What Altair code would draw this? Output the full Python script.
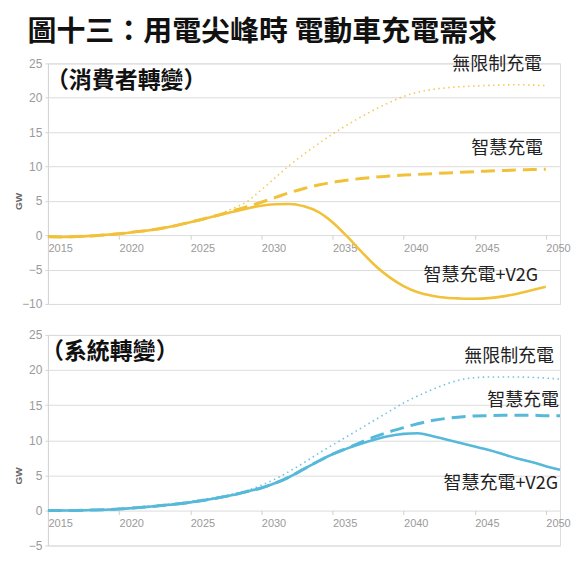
import altair as alt
import pandas as pd

# ---------------- data ----------------
title_text = "圖十三：用電尖峰時 電動車充電需求"
panel_titles = ["（消費者轉變）", "（系統轉變）"]
series_labels = ["無限制充電", "智慧充電", "智慧充電+V2G"]

years_top = list(range(2015, 2051))
top_unlimited = [-0.2, -0.25, -0.2, -0.1, 0.05, 0.2, 0.45, 0.7, 1.0, 1.4, 1.9,
                 2.45, 3.05, 3.9, 4.9, 6.6, 8.4, 10.2, 11.8, 13.3, 14.7,
                 16.0, 17.2, 18.3, 19.3, 20.2, 20.8, 21.2, 21.45, 21.6, 21.7,
                 21.8, 21.85, 21.9, 21.85, 21.75]
top_smart = [-0.2, -0.25, -0.2, -0.1, 0.05, 0.2, 0.45, 0.7, 1.0, 1.4, 1.9,
             2.4, 2.95, 3.55, 4.15, 4.8, 5.5, 6.2, 6.8, 7.3, 7.7,
             8.0, 8.25, 8.45, 8.6, 8.75, 8.85, 8.95, 9.05, 9.15, 9.25,
             9.35, 9.4, 9.5, 9.55, 9.6]
top_v2g = [-0.2, -0.25, -0.2, -0.1, 0.05, 0.2, 0.45, 0.7, 1.0, 1.4, 1.9,
           2.4, 2.9, 3.4, 3.9, 4.3, 4.5, 4.55, 4.2, 3.4, 1.9,
           -0.1, -2.3, -4.4, -6.1, -7.4, -8.3, -8.8, -9.1, -9.2, -9.25,
           -9.15, -8.9, -8.5, -8.0, -7.5]

years_bottom = list(range(2015, 2052))
bottom_unlimited = [0.0, 0.0, 0.05, 0.1, 0.15, 0.25, 0.4, 0.6, 0.8, 1.0, 1.3,
                    1.6, 1.95, 2.35, 2.85, 3.6, 4.5, 5.6, 6.8, 8.1, 9.3,
                    10.5, 11.7, 12.9, 14.1, 15.3, 16.3, 17.2, 18.0, 18.6, 18.9,
                    19.0, 19.0, 19.0, 18.95, 18.85, 18.7]
bottom_smart = [0.0, 0.0, 0.0, 0.05, 0.1, 0.2, 0.35, 0.5, 0.7, 0.9, 1.15,
                1.45, 1.8, 2.2, 2.7, 3.2, 3.9, 4.8, 5.9, 7.0, 8.0,
                8.85, 9.7, 10.5, 11.2, 11.8, 12.35, 12.8, 13.1, 13.3, 13.45,
                13.5, 13.55, 13.55, 13.55, 13.5, 13.5]
bottom_v2g = [0.0, 0.0, 0.0, 0.05, 0.1, 0.2, 0.35, 0.5, 0.7, 0.9, 1.15,
              1.45, 1.8, 2.2, 2.7, 3.2, 3.9, 4.8, 5.9, 7.0, 8.0,
              8.8, 9.5, 10.1, 10.6, 10.9, 11.0, 10.6, 10.1, 9.6, 9.1,
              8.6, 8.0, 7.4, 6.9, 6.3, 5.8]

x_ticks = [2015, 2020, 2025, 2030, 2035, 2040, 2045, 2050]
top_y_ticks = [-10, -5, 0, 5, 10, 15, 20, 25]
bottom_y_ticks = [-5, 0, 5, 10, 15, 20, 25]

# ---------------- style ----------------
GOLD = "#f2c13a"
BLUE = "#56b9d9"
CJK = "Noto Sans CJK TC"
W = 513
TOP_H, BOT_H = 241, 211
TOP_DOM, BOT_DOM = [-10, 25], [-5, 25]


def frame(years, vals):
    return pd.DataFrame({"year": years, "value": vals})


def panel(years, unl, smart, v2g, color, ydom, yticks, h, label_pos, ptitle, ptitle_pos):
    zero_off = h * (0 - ydom[0]) / (ydom[1] - ydom[0])
    gw_y = h * (ydom[1] - 5) / (ydom[1] - ydom[0])
    xenc = alt.X("year:Q", scale=alt.Scale(domain=[2015, 2051], nice=False, zero=False),
                 axis=alt.Axis(values=x_ticks, format="d", labelAlign="left", offset=-zero_off,
                               domain=False, grid=False, tickSize=4, tickColor="#cfcfcf",
                               labelColor="#9a9a9a", labelFontSize=11, labelPadding=3,
                               labelOverlap=False, labelFont="Liberation Sans", title=None))
    yenc = alt.Y("value:Q", scale=alt.Scale(domain=ydom, nice=False, zero=False),
                 axis=alt.Axis(values=yticks, grid=True, gridColor="#dcdcdc", domainColor="#d4d4d4",
                               tickColor="#d4d4d4", tickSize=3, labelColor="#9a9a9a",
                               labelFontSize=12, labelFont="Liberation Sans", labelPadding=3,
                               labelOverlap=False, labelFlush=False, labelBound=False,
                               title="GW", titleFontSize=10, titleFontWeight="bold",
                               titleColor="#666666", titleFont="Liberation Sans",
                               titleX=-24, titleY=gw_y))
    base_unl = alt.Chart(frame(years, unl)).mark_line(
        color=color, strokeWidth=1.6, strokeDash=[1.5, 3.5], interpolate="monotone", opacity=0.85
    )
    base_smart = alt.Chart(frame(years, smart)).mark_line(
        color=color, strokeWidth=3, strokeDash=[14, 7], interpolate="monotone"
    )
    base_v2g = alt.Chart(frame(years, v2g)).mark_line(
        color=color, strokeWidth=2.6, interpolate="monotone"
    )
    lines = alt.layer(base_unl, base_smart, base_v2g).encode(x=xenc, y=yenc)
    layers = [lines]
    for lab, (px, py) in zip(series_labels, label_pos):
        layers.append(
            alt.Chart(pd.DataFrame({"t": [lab]})).mark_text(
                align="right", baseline="middle", font=CJK, fontSize=18, color="#222222"
            ).encode(x=alt.value(px), y=alt.value(py), text="t:N")
        )
    layers.append(
        alt.Chart(pd.DataFrame({"t": [ptitle]})).mark_text(
            align="left", baseline="middle", font=CJK, fontSize=23, fontWeight="bold", color="#111111"
        ).encode(x=alt.value(ptitle_pos[0]), y=alt.value(ptitle_pos[1]), text="t:N")
    )
    return alt.layer(*layers).properties(width=W, height=h)


top = panel(years_top, top_unlimited, top_smart, top_v2g, GOLD, TOP_DOM, top_y_ticks, TOP_H,
            [(495, 2), (496, 86), (491, 213)], panel_titles[0], (-2, 18))
bottom = panel(years_bottom, bottom_unlimited, bottom_smart, bottom_v2g, BLUE, BOT_DOM, bottom_y_ticks,
               BOT_H, [(507, 22), (512, 66), (511, 149)], panel_titles[1], (-7, 17))

chart = alt.vconcat(top, bottom, spacing=31, bounds="flush").properties(
    title=alt.TitleParams(title_text, font=CJK, fontSize=29, fontWeight="bold", color="#111111",
                          anchor="start", offset=9, dx=14),
    padding={"left": 5, "top": 9, "right": 0, "bottom": 0},
).configure_view(stroke=None).configure_axis(labelOverlap=False).configure(background="white")

chart.save("out.html", embed_options={"renderer": "svg", "actions": False})
